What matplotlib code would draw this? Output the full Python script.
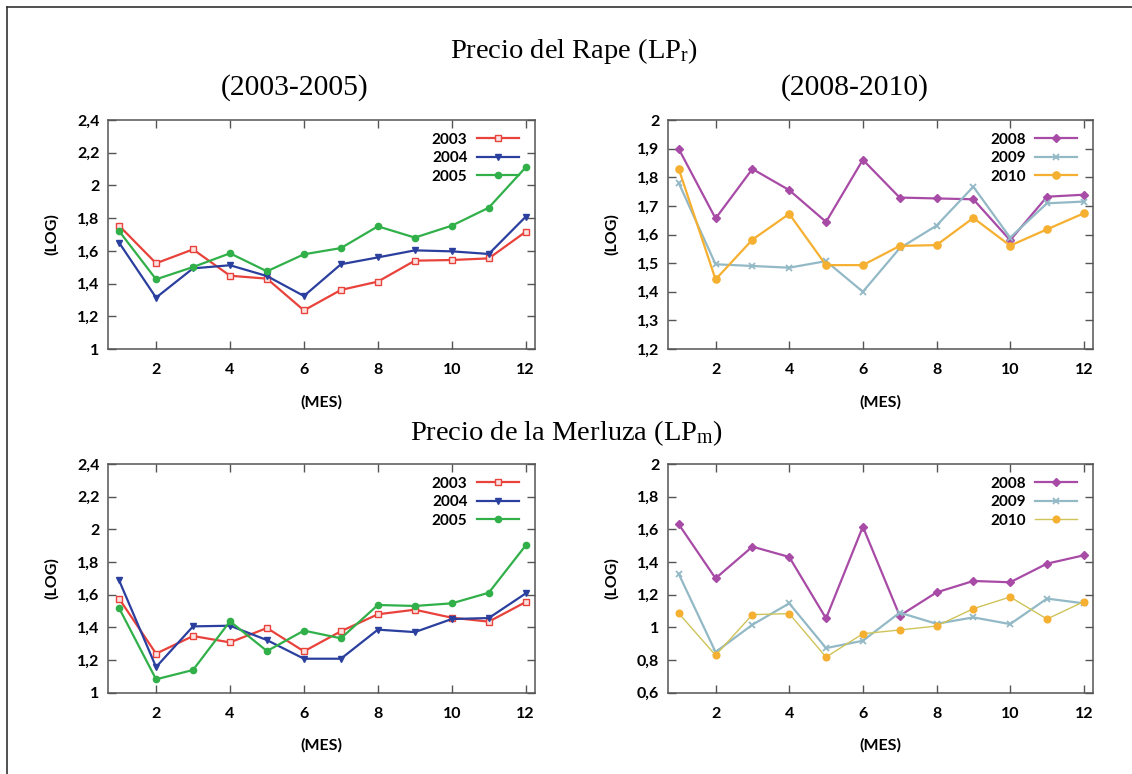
import matplotlib
matplotlib.use("Agg")
import matplotlib.pyplot as plt
from matplotlib.lines import Line2D

plt.rcParams['mathtext.fontset'] = 'custom'
plt.rcParams['mathtext.rm'] = 'Liberation Serif'
plt.rcParams['mathtext.it'] = 'Liberation Serif:italic'

# Datos
meses = list(range(1, 13))

rape_2003 = [1.754, 1.524, 1.609, 1.448, 1.430, 1.236, 1.361, 1.412, 1.540, 1.544, 1.554, 1.717]
rape_2004 = [1.650, 1.314, 1.493, 1.512, 1.446, 1.324, 1.518, 1.560, 1.603, 1.597, 1.581, 1.809]
rape_2005 = [1.721, 1.426, 1.501, 1.585, 1.475, 1.579, 1.617, 1.750, 1.681, 1.754, 1.864, 2.111]

rape_2008 = [1.899, 1.656, 1.829, 1.755, 1.644, 1.861, 1.729, 1.726, 1.723, 1.580, 1.732, 1.739]
rape_2009 = [1.780, 1.496, 1.490, 1.484, 1.507, 1.400, 1.552, 1.631, 1.767, 1.589, 1.709, 1.715]
rape_2010 = [1.829, 1.443, 1.582, 1.672, 1.493, 1.493, 1.560, 1.563, 1.658, 1.561, 1.618, 1.674]

merluza_2003 = [1.576, 1.239, 1.347, 1.308, 1.396, 1.253, 1.376, 1.480, 1.508, 1.459, 1.435, 1.555]
merluza_2004 = [1.688, 1.157, 1.406, 1.410, 1.322, 1.208, 1.208, 1.386, 1.371, 1.451, 1.457, 1.608]
merluza_2005 = [1.518, 1.082, 1.139, 1.437, 1.255, 1.380, 1.333, 1.537, 1.531, 1.547, 1.612, 1.902]

merluza_2008 = [1.631, 1.300, 1.494, 1.431, 1.055, 1.616, 1.071, 1.214, 1.284, 1.276, 1.390, 1.441]
merluza_2009 = [1.327, 0.849, 1.016, 1.147, 0.873, 0.918, 1.090, 1.022, 1.061, 1.020, 1.176, 1.147]
merluza_2010 = [1.086, 0.829, 1.078, 1.084, 0.818, 0.961, 0.984, 1.008, 1.114, 1.186, 1.051, 1.157]

yticks_izq = [1, 1.2, 1.4, 1.6, 1.8, 2, 2.2, 2.4]
yticks_rape_der = [1.2, 1.3, 1.4, 1.5, 1.6, 1.7, 1.8, 1.9, 2]
yticks_merl_der = [0.6, 0.8, 1, 1.2, 1.4, 1.6, 1.8, 2]

rojo, azul, verde = '#e8423b', '#2b3f9e', '#31b04a'
morado, celeste, naranja = '#a84ba6', '#93b9c6', '#f5b031'

fig = plt.figure(figsize=(11.32, 7.74), dpi=100)
W, H = 1132, 774


def crear_ejes(x0, y0, x1, y1):
    return fig.add_axes([x0 / W, 1 - y1 / H, (x1 - x0) / W, (y1 - y0) / H])


def fmt(v):
    return ('%g' % v).replace('.', ',')


def estilo(ax, yticks):
    ax.set_xlim(0.7, 12.25)
    ax.set_ylim(yticks[0], yticks[-1])
    ax.set_xticks([2, 4, 6, 8, 10, 12])
    ax.set_yticks(yticks)
    ax.set_yticklabels([fmt(v) for v in yticks])
    ax.tick_params(direction='in', top=True, right=True, length=6, width=1,
                   color='#555555', labelsize=11.5, pad=6)
    ax.tick_params(axis='x', pad=10)
    for lab in ax.get_xticklabels() + ax.get_yticklabels():
        lab.set_fontweight('bold')
        lab.set_fontfamily('Lato')
    for sp in ax.spines.values():
        sp.set_color('#555555')
        sp.set_linewidth(1.1)
    ax.set_xlabel('(MES)', fontsize=11.5, fontweight='bold', family='Lato')
    ax.xaxis.set_label_coords(0.5, -0.2)
    ax.set_ylabel('(LOG)', fontsize=11.5, fontweight='bold', family='Lato')
    ax.yaxis.set_label_coords(-0.115, 0.5)
    ax.legend(loc='upper right', frameon=False, markerfirst=False,
              prop={'family': 'Lato', 'weight': 'bold', 'size': 11},
              handlelength=2.8, handletextpad=0.6, labelspacing=0.3,
              borderaxespad=0.2, bbox_to_anchor=(0.985, 0.985))


# Precio del Rape 2003-2005
ax1 = crear_ejes(108, 120, 535, 349)
ax1.plot(meses, rape_2003, color=rojo, lw=1.6, marker='s', ms=4.5, mfc='#fbe3e2', mec=rojo, label='2003')
ax1.plot(meses, rape_2004, color=azul, lw=1.6, marker='v', ms=4.5, label='2004')
ax1.plot(meses, rape_2005, color=verde, lw=1.6, marker='o', ms=4.5, label='2005')
estilo(ax1, yticks_izq)

# Precio del Rape 2008-2010
ax2 = crear_ejes(667.7, 120, 1093, 349)
ax2.plot(meses, rape_2008, color=morado, lw=1.6, marker='D', ms=3.8, label='2008')
ax2.plot(meses, rape_2009, color=celeste, lw=1.6, marker='x', ms=4.2, mew=1.3, label='2009')
ax2.plot(meses, rape_2010, color=naranja, lw=1.6, marker='o', ms=5.2, label='2010')
estilo(ax2, yticks_rape_der)

# Precio de la Merluza 2003-2005
ax3 = crear_ejes(108, 464, 535, 692.7)
ax3.plot(meses, merluza_2003, color=rojo, lw=1.6, marker='s', ms=4.5, mfc='#fbe3e2', mec=rojo, label='2003')
ax3.plot(meses, merluza_2004, color=azul, lw=1.6, marker='v', ms=4.5, label='2004')
ax3.plot(meses, merluza_2005, color=verde, lw=1.6, marker='o', ms=4.5, label='2005')
estilo(ax3, yticks_izq)

# Precio de la Merluza 2008-2010
ax4 = crear_ejes(667.7, 464, 1093, 692.7)
ax4.plot(meses, merluza_2008, color=morado, lw=1.6, marker='D', ms=3.8, label='2008')
ax4.plot(meses, merluza_2009, color=celeste, lw=1.6, marker='x', ms=4.2, mew=1.3, label='2009')
ax4.plot(meses, merluza_2010, color='#cfc45a', lw=1.0, marker='o', ms=4.8, mfc=naranja, mec=naranja, label='2010')
estilo(ax4, yticks_merl_der)

# Títulos
serif = 'Liberation Serif'
fig.text(574 / W, 1 - 51 / H, 'Precio del Rape (LP$_{\\mathrm{r}}$)', ha='center', va='center',
         family=serif, fontsize=20.5)
fig.text(295 / W, 1 - 88 / H, '(2003-2005)', ha='center', va='center', family=serif, fontsize=21.3)
fig.text(855 / W, 1 - 88 / H, '(2008-2010)', ha='center', va='center', family=serif, fontsize=21.3)
fig.text(566 / W, 1 - 433 / H, 'Precio de la Merluza (LP$_{\\mathrm{m}}$)', ha='center', va='center',
         family=serif, fontsize=20.5)

# Marco
fig.add_artist(Line2D([7 / W, 1], [1 - 7 / H, 1 - 7 / H], transform=fig.transFigure, color='#333333', lw=1.2))
fig.add_artist(Line2D([7 / W, 7 / W], [0, 1 - 7 / H], transform=fig.transFigure, color='#333333', lw=1.2))

fig.savefig('out.png', dpi=100)
